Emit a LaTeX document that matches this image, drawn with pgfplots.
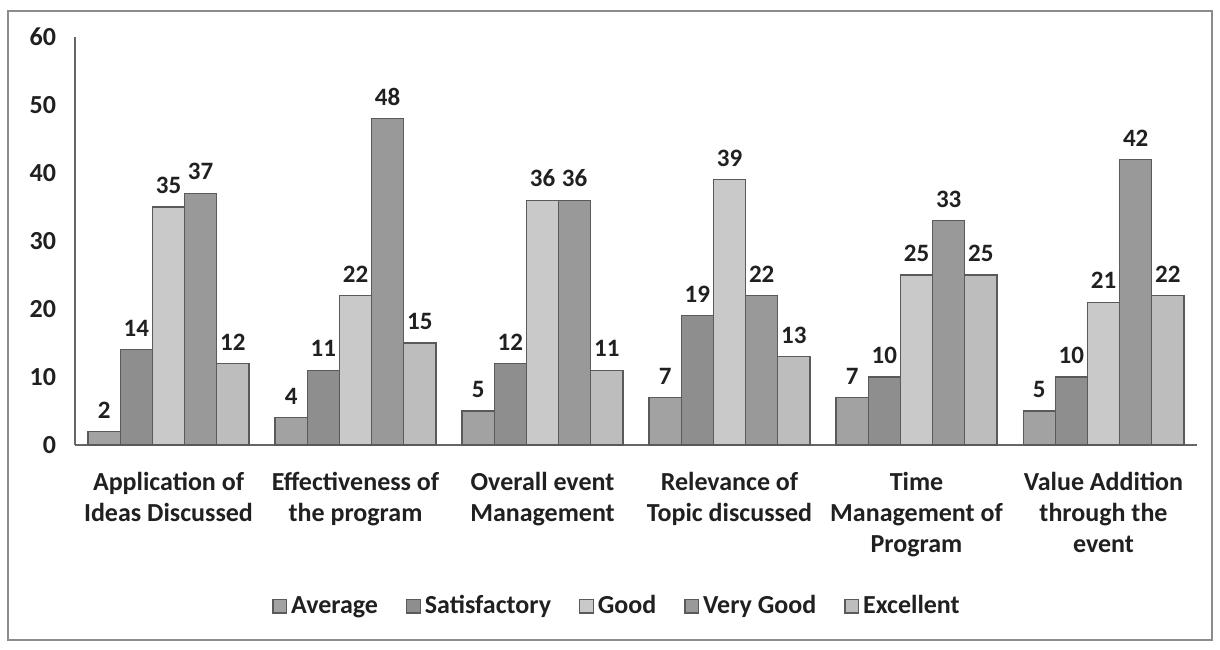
\documentclass[border=0pt]{standalone}
\usepackage{pgfplots}
\pgfplotsset{compat=1.18}
\usepackage{fontspec}
\setmainfont{Carlito}
\definecolor{cAvg}{HTML}{A2A2A2}
\definecolor{cSat}{HTML}{8E8E8E}
\definecolor{cGood}{HTML}{C9C9C9}
\definecolor{cVG}{HTML}{999999}
\definecolor{cExc}{HTML}{BDBDBD}
\definecolor{cEdge}{HTML}{5A5A5A}
\definecolor{cText}{HTML}{202020}
\begin{document}
\begin{tikzpicture}
\path[use as bounding box] (0,0) rectangle (610pt,324.5pt);
\draw[black!45, line width=0.8pt] (4pt,4.5pt) rectangle (606pt,319pt);
\begin{axis}[
  at={(37.5pt,102pt)}, anchor=south west,
  scale only axis, width=561pt, height=204pt,
  ybar=0pt, bar width=0.172,
  xmin=-0.5, xmax=5.5, ymin=0, ymax=60,
  ytick={0,10,...,60},
  xtick={0,1,2,3,4,5},
  xticklabels={{Application of\\Ideas Discussed},{Effectiveness of\\the program},{Overall event\\Management},{Relevance of\\Topic discussed},{Time\\Management of\\Program},{Value Addition\\through the\\event}},
  xticklabel style={align=center, font=\bfseries\fontsize{13}{15.5}\selectfont, text=cText, yshift=-10pt},
  yticklabel style={font=\bfseries\fontsize{13}{15.5}\selectfont, text=cText, xshift=-6pt},
  /pgf/number format/assume math mode=true,
  major tick length=0pt,
  axis x line*=bottom, axis y line*=left,
  axis line style={black!60, line width=0.8pt},
  every axis plot/.append style={draw=cEdge, line width=0.6pt},
  nodes near coords,
  every node near coord/.append style={font=\bfseries\fontsize{12.5}{15}\selectfont, text=cText, yshift=3pt},
  legend columns=5,
  legend style={at={(0.484,-0.395)}, anchor=center, draw=none, fill=none,
    font=\bfseries\fontsize{13}{15.5}\selectfont, text=cText,
    /tikz/every even column/.append style={column sep=12pt}},
  legend image code/.code={\draw[#1, line width=0.6pt] (0pt,-3.4pt) rectangle (6.8pt,3.4pt);},
]
\addplot[fill=cAvg] coordinates {(0,2) (1,4) (2,5) (3,7) (4,7) (5,5)};
\addplot[fill=cSat] coordinates {(0,14) (1,11) (2,12) (3,19) (4,10) (5,10)};
\addplot[fill=cGood] coordinates {(0,35) (1,22) (2,36) (3,39) (4,25) (5,21)};
\addplot[fill=cVG] coordinates {(0,37) (1,48) (2,36) (3,22) (4,33) (5,42)};
\addplot[fill=cExc] coordinates {(0,12) (1,15) (2,11) (3,13) (4,25) (5,22)};
\legend{Average,Satisfactory,Good,Very Good,Excellent}
\end{axis}
\end{tikzpicture}
\end{document}
